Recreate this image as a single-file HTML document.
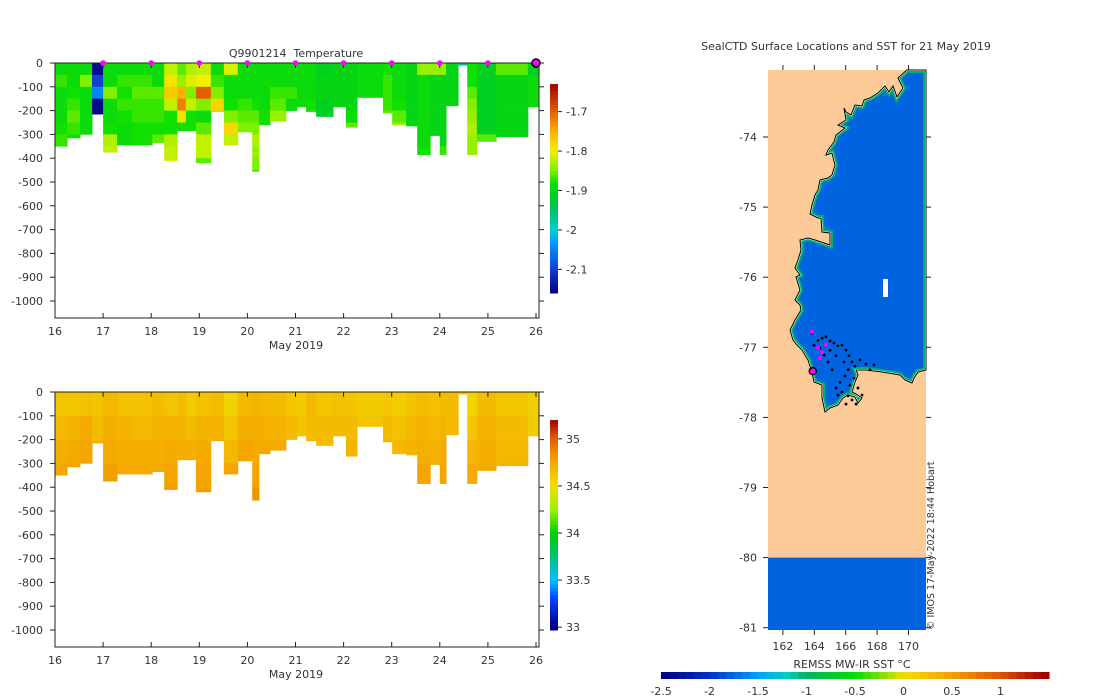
<!DOCTYPE html>
<html><head><meta charset="utf-8"><style>
body{margin:0;background:#fff}
svg{display:block;font-family:"DejaVu Sans","Liberation Sans",sans-serif;font-size:11px;fill:#333}
</style></head><body>
<svg id="s" width="1100" height="700" viewBox="0 0 1100 700" xmlns="http://www.w3.org/2000/svg">
<defs><clipPath id="oceanClip"><path id="oceanPathClip" d=""/></clipPath></defs>
<g id="top"></g>
<g id="bot"></g>
<g id="map"></g>
</svg>
<script>
const NS="http://www.w3.org/2000/svg";
// ---- section data ----
const times=[16.00,16.25,16.52,16.77,17.00,17.29,17.60,18.02,18.27,18.54,18.72,18.93,19.24,19.51,19.80,20.10,20.24,20.47,20.80,21.03,21.22,21.43,21.78,22.05,22.28,22.82,23.01,23.30,23.53,23.80,24.00,24.13,24.38,24.57,24.77,25.17,25.83];
const endTime=26.04;
const depths=[350,315,300,215,375,345,345,335,410,285,285,420,205,345,290,455,260,245,200,185,205,225,185,270,145,210,260,265,385,305,385,180,10,385,330,310,185];
const temps=[
[-1.89,-1.87,-1.89,-1.89,-1.89,-1.88,-1.87],
[-1.89,-1.89,-1.88,-1.87,-1.86,-1.87,-1.88],
[-1.89,-1.85,-1.89,-1.89,-1.89,-1.89],
[-2.15,-2.1,-2.05,-2.15,-2.15],
[-1.89,-1.89,-1.85,-1.89,-1.89,-1.88,-1.83,-1.82],
[-1.89,-1.87,-1.88,-1.87,-1.88,-1.89,-1.89],
[-1.89,-1.87,-1.86,-1.87,-1.87,-1.88,-1.88],
[-1.89,-1.89,-1.86,-1.87,-1.87,-1.88,-1.86],
[-1.82,-1.79,-1.77,-1.82,-1.88,-1.88,-1.83,-1.82,-1.82],
[-1.86,-1.84,-1.75,-1.72,-1.79,-1.88],
[-1.83,-1.81,-1.85,-1.82,-1.88,-1.88],
[-1.82,-1.80,-1.70,-1.85,-1.89,-1.86,-1.82,-1.82,-1.86],
[-1.89,-1.87,-1.85,-1.78,-1.77],
[-1.81,-1.89,-1.89,-1.88,-1.85,-1.78,-1.82],
[-1.89,-1.89,-1.89,-1.87,-1.86,-1.85],
[-1.89,-1.89,-1.89,-1.88,-1.86,-1.85,-1.83,-1.84,-1.85,-1.87],
[-1.89,-1.89,-1.89,-1.89,-1.88,-1.88],
[-1.89,-1.89,-1.87,-1.86,-1.84],
[-1.89,-1.89,-1.87,-1.89],
[-1.89,-1.89,-1.89,-1.89],
[-1.89,-1.89,-1.89,-1.88,-1.87],
[-1.91,-1.90,-1.90,-1.91,-1.91],
[-1.90,-1.90,-1.90,-1.90],
[-1.90,-1.90,-1.90,-1.90,-1.89,-1.86],
[-1.89,-1.89,-1.89],
[-1.88,-1.87,-1.87,-1.87,-1.86],
[-1.89,-1.89,-1.89,-1.88,-1.86,-1.84],
[-1.90,-1.90,-1.90,-1.90,-1.90,-1.90],
[-1.84,-1.89,-1.89,-1.89,-1.89,-1.89,-1.89,-1.88],
[-1.84,-1.90,-1.90,-1.90,-1.90,-1.90,-1.90],
[-1.84,-1.90,-1.90,-1.90,-1.90,-1.90,-1.90,-1.87],
[-1.90,-1.90,-1.90,-1.90],
[-1.98],
[-1.88,-1.88,-1.86,-1.85,-1.84,-1.83,-1.84,-1.84],
[-1.91,-1.91,-1.91,-1.91,-1.91,-1.91,-1.86],
[-1.86,-1.90,-1.90,-1.90,-1.90,-1.90,-1.90],
[-1.91,-1.89,-1.89,-1.89]];
const sals=[
[34.62,34.68,34.72,34.76],[34.62,34.70,34.74,34.76],[34.64,34.74,34.76],[34.62,34.66,34.70],
[34.68,34.72,34.74,34.78],[34.64,34.70,34.72,34.74],[34.64,34.68,34.72,34.74],[34.66,34.70,34.72,34.74],
[34.62,34.70,34.74,34.76,34.80],[34.66,34.70,34.72],[34.60,34.66,34.72],[34.64,34.70,34.74,34.76,34.78],
[34.66,34.70,34.72],[34.56,34.62,34.68,34.76],[34.68,34.72,34.76],[34.70,34.72,34.74,34.76,34.82],
[34.68,34.72,34.74],[34.66,34.70,34.74],[34.62,34.66],[34.60,34.62],
[34.68,34.66,34.72],[34.62,34.66,34.66],[34.64,34.66],[34.62,34.66,34.70],
[34.60,34.62],[34.62,34.66,34.70],[34.58,34.64,34.68],[34.64,34.68,34.70],
[34.66,34.70,34.72,34.76],[34.64,34.68,34.70,34.72],[34.66,34.70,34.74,34.76],[34.66,34.68],
[34.60],[34.56,34.62,34.68,34.74],[34.66,34.70,34.72,34.74],[34.62,34.66,34.68,34.70],[34.58,34.60]];
const markerDays=[17,18,19,20,21,22,23,24,25];
const lastDay=26;
const dayTicks=[16,17,18,19,20,21,22,23,24,25,26];
const depthTicks=[0,100,200,300,400,500,600,700,800,900,1000];
const tempTicks=[-1.7,-1.8,-1.9,-2,-2.1];
const salTicks=[35,34.5,34,33.5,33];
// ---- map data ----
const sealLon=[163.85,164.23,164.49,164.74,165.0,165.25,165.5,165.76,166.02,166.21,166.4,166.59,166.91,167.29,167.55,167.8,166.15,165.95,165.64,165.38,165.76,166.15,166.4,166.66,166.02,165.51,165.0,165.38,164.87,164.36,163.98,164.62,166.27,166.53,165.89,166.78,165.13,167.04];
const sealLat=[-76.80,-76.90,-76.87,-76.85,-76.91,-76.94,-76.98,-76.97,-77.04,-77.12,-77.21,-77.27,-77.18,-77.24,-77.32,-77.25,-77.32,-77.41,-77.50,-77.58,-77.64,-77.69,-77.75,-77.81,-77.81,-77.68,-77.04,-77.12,-77.21,-77.01,-76.97,-77.11,-77.54,-77.44,-77.21,-77.58,-77.32,-77.68];
const dayLon=[163.85,164.23,164.49,164.74,164.36];
const dayLat=[-76.78,-77.01,-77.07,-76.96,-77.15];
const lastLon=163.9, lastLat=-77.34;
const latTicks=[-74,-75,-76,-77,-78,-79,-80,-81];
const lonTicks=[162,164,166,168,170];
const sstTicks=[-2.5,-2,-1.5,-1,-0.5,0,0.5,1];

function el(tag,attrs,parent,text){const e=document.createElementNS(NS,tag);for(const k in attrs)e.setAttribute(k,attrs[k]);if(text!==undefined)e.textContent=text;parent.appendChild(e);return e;}
function hex(c){return [parseInt(c.slice(1,3),16),parseInt(c.slice(3,5),16),parseInt(c.slice(5,7),16)];}
function cmap(stops){return v=>{if(v<=stops[0][0])return stops[0][1];const L=stops[stops.length-1];if(v>=L[0])return L[1];
 for(let i=0;i<stops.length-1;i++){const a=stops[i],b=stops[i+1];if(v<=b[0]){const t=(v-a[0])/(b[0]-a[0]);const A=hex(a[1]),B=hex(b[1]);return `rgb(${A.map((x,j)=>Math.round(x+(B[j]-x)*t)).join(',')})`;}}};}
const tCol=cmap([[-2.16,'#00007f'],[-2.10,'#1040d0'],[-2.03,'#00a0ff'],[-2.0,'#00d0d0'],[-1.95,'#00c060'],[-1.91,'#00d020'],[-1.88,'#10e000'],[-1.85,'#80f000'],[-1.80,'#f0f000'],[-1.75,'#ffb000'],[-1.70,'#e06000'],[-1.63,'#a00000']]);
const sCol=cmap([[33,'#00007f'],[33.3,'#0040ff'],[33.5,'#00c0ff'],[33.8,'#00c060'],[34,'#00d000'],[34.25,'#a0f000'],[34.5,'#f0e000'],[34.75,'#f5a800'],[35,'#e06000'],[35.2,'#a00000']]);
const sstCol=cmap([[-2.5,'#00007f'],[-2,'#0030d0'],[-1.5,'#00a0ff'],[-1.2,'#00d0c0'],[-1,'#00b060'],[-0.5,'#00e000'],[0,'#f0e000'],[0.5,'#f5a000'],[1,'#e05000'],[1.45,'#a00000']]);

const X0=55,X1=539,xT=d=>55+(d-16)*48.1;
function section(g,top,vals,step,col,cbTop,cbBot,cbMin,cbMax,ticks,name,withTitle){
 const bottom=top+255,yD=d=>top+d*0.238;
 for(let i=0;i<times.length;i++){
  const x0=xT(times[i]),x1=xT(i+1<times.length?times[i+1]:endTime);
  const arr=vals[i];const n=Math.ceil(depths[i]/step);
  for(let j=0;j<n;j++){
   const v=arr[Math.min(j,arr.length-1)];
   const d0=j*step,d1=Math.min((j+1)*step,depths[i]);
   const r=el('rect',{x:x0,y:yD(d0),width:x1-x0+0.5,height:yD(d1)-yD(d0)+0.3,fill:col(v)},g);
   
   
  }
 }
 const ax=el('rect',{x:X0,y:top,width:X1-X0,height:bottom-top,fill:'none',stroke:'#222','stroke-width':1},g);
 
 dayTicks.forEach(d=>{const x=xT(d);el('line',{x1:x,x2:x,y1:bottom,y2:bottom-5,stroke:'#222'},g);el('line',{x1:x,x2:x,y1:top,y2:top+5,stroke:'#222'},g);
  const t=el('text',{x:x,y:bottom+17,'text-anchor':'middle'},g,String(d));});
 depthTicks.forEach(d=>{const y=yD(d);el('line',{x1:X0,x2:X0-5,y1:y,y2:y,stroke:'#222'},g);el('line',{x1:X1,x2:X1+5,y1:y,y2:y,stroke:'#222'},g);
  const t=el('text',{x:43,y:y+4,'text-anchor':'end'},g,d===0?'0':String(-d));});
 const xl=el('text',{x:296,y:bottom+31,'text-anchor':'middle'},g,'May 2019');
 const N=60,h=(cbBot-cbTop)/N;
 for(let k=0;k<N;k++){const v=cbMax-(k+0.5)*(cbMax-cbMin)/N;const r=el('rect',{x:550,y:cbTop+k*h,width:8,height:h+0.5,fill:col(v)},g);}
 ticks.forEach(v=>{const y=cbBot-(v-cbMin)/(cbMax-cbMin)*(cbBot-cbTop);el('line',{x1:558,x2:562,y1:y,y2:y,stroke:'#222'},g);
  const t=el('text',{x:566,y:y+4},g,String(v));});
 if(withTitle){
  const t=el('text',{x:296,y:57,'text-anchor':'middle',style:'white-space:pre'},g,'Q9901214  Temperature');
  markerDays.forEach(d=>{const c=el('circle',{cx:xT(d),cy:top,r:2.8,fill:'#ff00ff'},g);});
  const c=el('circle',{cx:xT(lastDay),cy:top,r:4,fill:'#ff00ff',stroke:'#000','stroke-width':1.5},g);
 }
}
section(document.getElementById('top'),63,temps,50,tCol,84,293,-2.16,-1.63,tempTicks,'temperature',true);
section(document.getElementById('bot'),392,sals,100,sCol,420,630,32.97,35.2,salTicks,'salinity',false);

// ---- map ----
const mg=document.getElementById('map');
const MX0=768,MX1=926,MY0=70,MY1=630;
const lonX=l=>768+(l-161.05)*15.7, latY=l=>137+(-74-l)*70.1;
el('rect',{x:MX0,y:MY0,width:MX1-MX0,height:MY1-MY0,fill:'#fdcb98'},mg);
const coast="M907,70 L898,78 L903,88 L897,97 L893,86 L889,92 L885,86 L878,93 L870,98 L864,100 L862,106 L855,105 L851,115 L846,112 L844,108 L846,120 L838,125 L845,128 L840,132 L836,135 L834,142 L828,150 L826,155 L832,153 L835,165 L832,175 L828,178 L820,180 L818,190 L815,195 L812,205 L810,214 L818,218 L821,218 L822,232 L830,233 L830,245 L815,240 L808,238 L800,240 L801,250 L798,260 L795,268 L800,275 L796,277 L800,290 L795,300 L800,305 L801,310 L795,320 L790,330 L793,340 L797,345 L802,350 L808,360 L812,372 L814,382 L822,385 L822,398 L825,412 L830,408 L838,405 L843,398 L848,395 L855,397 L858,403 L862,398 L856,394 L852,392 L855,382 L858,375 L856,370 L866,370 L882,372 L900,375 L905,380 L912,383 L914,378 L918,372 L926,370 L926,70 Z";
document.getElementById('oceanPathClip').setAttribute('d',coast);
const oc=el('path',{d:coast,fill:'#0064e0'},mg);
const band=el('path',{d:coast,fill:'none',stroke:'#00b070','stroke-width':6,'clip-path':'url(#oceanClip)'},mg);
const band2=el('path',{d:coast,fill:'none',stroke:'#fff','stroke-width':2,'clip-path':'url(#oceanClip)'},mg);
el('path',{d:coast,fill:'none',stroke:'#000','stroke-width':1},mg);
el('rect',{x:883,y:279,width:5,height:18,fill:'#fff'},mg);
const south=el('rect',{x:MX0,y:latY(-80),width:MX1-MX0,height:MY1-latY(-80),fill:'#0064e0'},mg);
sealLon.forEach((l,i)=>{const c=el('circle',{cx:lonX(l),cy:latY(sealLat[i]),r:1.4,fill:'#000'},mg);});
dayLon.forEach((l,i)=>{const c=el('circle',{cx:lonX(l),cy:latY(dayLat[i]),r:2,fill:'#ff00ff'},mg);});
const lc=el('circle',{cx:lonX(lastLon),cy:latY(lastLat),r:3.5,fill:'#ff00ff',stroke:'#000','stroke-width':1.5},mg);
latTicks.forEach(l=>{const y=latY(l);el('line',{x1:MX0-5,x2:MX0,y1:y,y2:y,stroke:'#222'},mg);el('line',{x1:MX1,x2:MX1+5,y1:y,y2:y,stroke:'#222'},mg);
 const t=el('text',{x:757,y:y+4,'text-anchor':'end'},mg,String(l));});
lonTicks.forEach(l=>{const x=lonX(l);el('line',{x1:x,x2:x,y1:MY1,y2:MY1+5,stroke:'#222'},mg);el('line',{x1:x,x2:x,y1:MY0-5,y2:MY0,stroke:'#222'},mg);
 const t=el('text',{x:x,y:650,'text-anchor':'middle'},mg,String(l));});
const mt=el('text',{x:846,y:50,'text-anchor':'middle'},mg,'SealCTD Surface Locations and SST for 21 May 2019');
const cp=el('text',{x:0,y:0,transform:'translate(934,630) rotate(-90)','font-size':'9.5'},mg,'© IMOS 17-May-2022 18:44 Hobart');
const cl=el('text',{x:852,y:668,'text-anchor':'middle'},mg,'REMSS MW-IR SST °C');
const sx=v=>661+(v+2.5)*97;
for(let k=0;k<48;k++){const v0=-2.5+k*4/48;const r=el('rect',{x:sx(v0),y:672,width:97*4/48+0.5,height:7,fill:sstCol(v0+2/48)},mg);}
sstTicks.forEach(v=>{const t=el('text',{x:sx(v),y:695,'text-anchor':'middle'},mg,String(v));});
</script>
</body></html>
